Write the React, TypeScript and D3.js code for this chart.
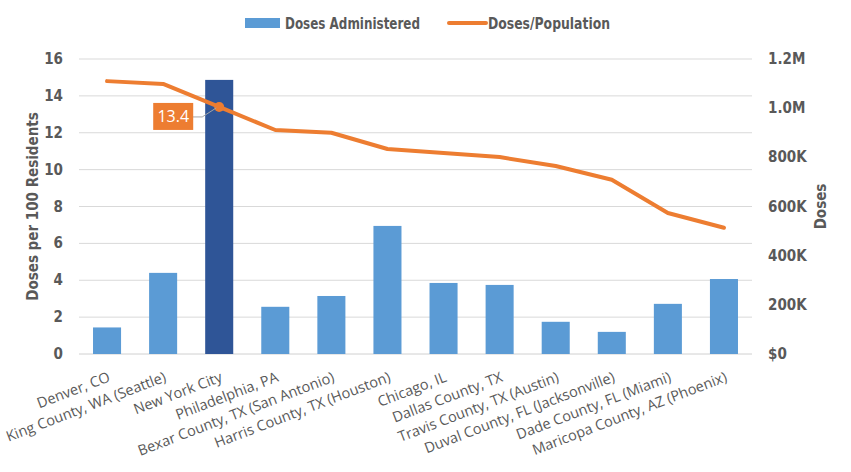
import React from 'react';
import * as d3 from 'd3';

const categories = [
  'Denver, CO',
  'King County, WA (Seattle)',
  'New York City',
  'Philadelphia, PA',
  'Bexar County, TX (San Antonio)',
  'Harris County, TX (Houston)',
  'Chicago, IL',
  'Dallas County, TX',
  'Travis County, TX (Austin)',
  'Duval County, FL (Jacksonville)',
  'Dade County, FL (Miami)',
  'Maricopa County, AZ (Phoenix)',
];
const dosesAdministered = [108000, 330000, 1115000, 192000, 236000, 521000, 289000, 281000, 131000, 90000, 204000, 305000];
const dosesPerPopulation = [14.8, 14.65, 13.4, 12.15, 12.0, 11.12, 10.9, 10.68, 10.2, 9.45, 7.65, 6.85];
const leftTicks = [0, 2, 4, 6, 8, 10, 12, 14, 16];
const rightTicks = [0, 200000, 400000, 600000, 800000, 1000000, 1200000];
const rightTickLabels = ['$0', '200K', '400K', '600K', '800K', '1.0M', '1.2M'];
const highlightIndex = 2;

const W = 851;
const H = 472;
const MARGIN = { top: 59, right: 99, bottom: 118, left: 79 };
const BOLD_FONT = '"DejaVu Sans Condensed", "Liberation Sans", sans-serif';
const FONT = '"Open Sans", "Liberation Sans", Arial, sans-serif';
const TEXT_GRAY = '#595959';

const App = () => {
  const x = d3.scaleBand<string>()
    .domain(categories)
    .range([MARGIN.left, W - MARGIN.right])
    .paddingInner(0.5)
    .paddingOuter(0.25);
  const yLeft = d3.scaleLinear().domain([0, 16]).range([H - MARGIN.bottom, MARGIN.top]);
  const yRight = d3.scaleLinear().domain([0, 1200000]).range([H - MARGIN.bottom, MARGIN.top]);

  const cx = (c: string) => (x(c) ?? 0) + x.bandwidth() / 2;

  const line = d3.line<number>()
    .x((_, i) => cx(categories[i]))
    .y(d => yLeft(d));

  const hx = cx(categories[highlightIndex]);
  const hy = yLeft(dosesPerPopulation[highlightIndex]);

  return (
    <svg width={W} height={H} style={{ position: 'absolute', left: 0, top: 0, background: '#fff' }}>
      {/* legend */}
      <g fontFamily={BOLD_FONT} fontSize={16} fontWeight="bold" fill={TEXT_GRAY}>
        <rect x={245} y={18} width={35} height={10} fill="#5b9bd5" />
        <text x={285} y={29} textLength={135} lengthAdjust="spacingAndGlyphs">Doses Administered</text>
        <line x1={449} y1={23} x2={486} y2={23} stroke="#ed7d31" strokeWidth={4} strokeLinecap="round" />
        <text x={488} y={29} textLength={122} lengthAdjust="spacingAndGlyphs">Doses/Population</text>
      </g>

      {/* gridlines */}
      {leftTicks.map(t => (
        <line key={t} x1={MARGIN.left} x2={W - MARGIN.right} y1={yLeft(t)} y2={yLeft(t)}
          stroke={t === 0 ? '#d0d0d0' : '#d9d9d9'} strokeWidth={1} />
      ))}

      {/* left ticks */}
      <g fontFamily={BOLD_FONT} fontSize={15} fontWeight="bold" fill={TEXT_GRAY} textAnchor="end">
        {leftTicks.map(t => (
          <text key={t} x={63} y={yLeft(t) + 5}>{t}</text>
        ))}
      </g>
      {/* right ticks */}
      <g fontFamily={BOLD_FONT} fontSize={15} fontWeight="bold" fill={TEXT_GRAY} textAnchor="start">
        {rightTicks.map((t, i) => (
          <text key={t} x={768} y={yRight(t) + 5}>{rightTickLabels[i]}</text>
        ))}
      </g>

      {/* axis titles */}
      <text transform={`translate(38,${(yLeft(0) + yLeft(16)) / 2}) rotate(-90)`} textAnchor="middle"
        fontFamily={BOLD_FONT} fontSize={15} fontWeight="bold" fill={TEXT_GRAY}>Doses per 100 Residents</text>
      <text transform={`translate(826,${(yLeft(0) + yLeft(16)) / 2}) rotate(-90)`} textAnchor="middle"
        fontFamily={BOLD_FONT} fontSize={15} fontWeight="bold" fill={TEXT_GRAY}>Doses</text>

      {/* bars */}
      {dosesAdministered.map((d, i) => (
        <rect key={categories[i]} x={x(categories[i])} y={yRight(d)} width={x.bandwidth()}
          height={yRight(0) - yRight(d)} fill={i === highlightIndex ? '#2f5597' : '#5b9bd5'} />
      ))}

      {/* line */}
      <path d={line(dosesPerPopulation) ?? ''} fill="none" stroke="#ed7d31" strokeWidth={4}
        strokeLinejoin="round" strokeLinecap="round" />
      <circle cx={hx} cy={hy} r={5} fill="#ed7d31" />

      {/* callout */}
      <polyline points={`${hx - 27},${hy + 10} ${hx - 17},${hy + 10} ${hx - 3},${hy + 1}`} fill="none" stroke="#a6a6a6" strokeWidth={1} />
      <rect x={hx - 66} y={hy - 4} width={40} height={27} fill="#ed7d31" />
      <text x={hx - 46} y={hy + 15} textAnchor="middle" fontFamily={FONT} fontSize={16} fill="#fff">
        {dosesPerPopulation[highlightIndex].toFixed(1)}
      </text>

      {/* category labels */}
      <g fontFamily={FONT} fontSize={14.5} fill={TEXT_GRAY} textAnchor="end">
        {categories.map(c => (
          <text key={c} transform={`translate(${cx(c) + 4},${yLeft(0) + 27}) rotate(-21)`}>{c}</text>
        ))}
      </g>
    </svg>
  );
};

export default App;
